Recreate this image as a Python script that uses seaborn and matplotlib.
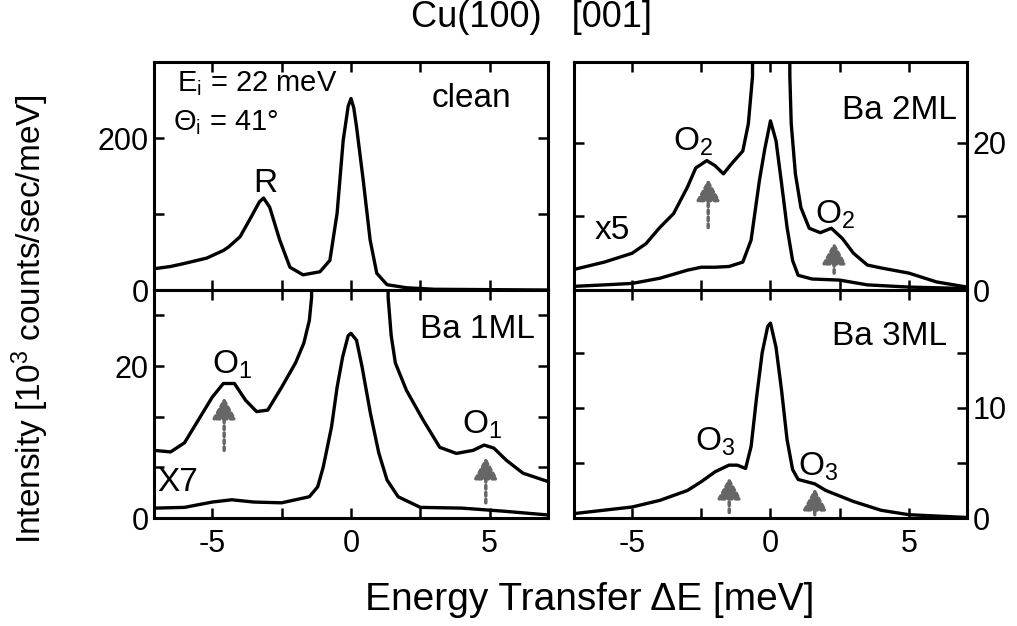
import matplotlib
matplotlib.use("Agg")
import matplotlib.pyplot as plt
import seaborn as sns

# Cu(100) [001] - He atom scattering spectra, clean and Ba covered
# values (energy transfer in meV)

clean_e = [-7.1, -6.5, -6.0, -5.2, -4.6, -4.4, -4.0, -3.66, -3.3, -3.15, -2.93, -2.57, -2.2,
           -1.73, -1.12, -0.76, -0.5, -0.28, -0.1, 0.0, 0.1, 0.2, 0.44, 0.69, 0.93, 1.3, 2.0,
           3.0, 5.0, 7.1]
clean_i = [28, 31, 35, 42, 52, 57, 70, 92, 116, 121, 109, 66, 30,
           20, 24, 39, 101, 197, 242, 252, 240, 215, 145, 66, 22, 7, 3,
           1, 0.5, 0]

ba2_e = [-7.1, -6.0, -5.0, -4.0, -3.0, -2.5, -2.0, -1.5, -1.0, -0.7, -0.4, -0.2, 0.0, 0.2,
         0.4, 0.6, 0.8, 1.0, 1.5, 2.5, 3.5, 5.0, 7.1]
ba2_i = [0.5, 0.7, 0.9, 1.6, 2.7, 3.1, 3.1, 3.2, 3.8, 6.8, 14.9, 19.3, 23.0, 20.3,
         14.5, 8.5, 4.0, 2.0, 1.5, 1.35, 0.7, 0.4, 0.2]
ba2x5_e = [-7.1, -6.0, -5.0, -4.5, -4.0, -3.5, -3.0, -2.7, -2.3, -2.0, -1.7, -1.4, -1.0,
           -0.8, -0.65, -0.6, 0.0, 0.65, 0.7, 0.75, 0.9, 1.1, 1.4, 1.8, 2.2, 2.6, 3.0, 3.5,
           4.0, 5.0, 6.0, 7.1]
ba2x5_i = [2.8, 3.8, 5.0, 6.3, 8.5, 10.4, 14.0, 16.6, 17.6, 16.9, 15.8, 17.2, 18.9,
           22.6, 29, 80, 115, 80, 29, 22.6, 15.8, 11.2, 8.4, 7.8, 8.4, 7.0, 5.0, 3.4,
           3.0, 2.3, 1.1, 0.4]

ba1_e = [-7.1, -6.0, -5.0, -4.3, -3.5, -2.5, -1.5, -1.2, -1.0, -0.7, -0.5, -0.3, -0.1, 0.0,
         0.2, 0.4, 0.7, 1.0, 1.3, 1.7, 2.5, 4.0, 5.5, 7.1]
ba1_i = [1.3, 1.4, 2.1, 2.4, 2.1, 2.0, 2.8, 4.1, 6.7, 12.0, 17.2, 21.2, 24.0, 24.3,
         23.4, 19.9, 13.8, 8.6, 5.0, 2.8, 1.4, 1.3, 0.9, 0.4]
ba1x7_e = [-7.1, -6.5, -6.0, -5.5, -5.0, -4.6, -4.2, -3.8, -3.4, -3.0, -2.5, -2.0, -1.7,
           -1.5, -1.42, -1.38, 0.0, 1.3, 1.34, 1.45, 1.6, 2.0, 2.6, 3.2, 3.8, 4.4, 4.8, 5.15,
           5.6, 6.2, 7.1]
ba1x7_i = [8.9, 8.7, 9.9, 12.9, 15.9, 17.7, 17.7, 15.5, 14.0, 14.2, 17.2, 20.4, 23.0,
           26.0, 29, 80, 170, 80, 29, 24.0, 20.4, 16.8, 12.9, 9.3, 8.5, 8.9, 9.6, 9.2,
           7.6, 5.9, 4.8]

ba3_e = [-7.1, -5.0, -4.0, -3.0, -2.5, -2.0, -1.5, -1.2, -0.9, -0.7, -0.5, -0.3, -0.1, 0.0,
         0.2, 0.4, 0.6, 0.8, 1.0, 1.3, 1.6, 2.0, 3.0, 4.0, 5.0, 7.1]
ba3_i = [0.4, 1.0, 1.6, 2.5, 3.3, 4.2, 4.8, 4.8, 4.5, 6.5, 11.0, 15.0, 17.4, 17.7,
         15.5, 11.6, 7.1, 4.4, 3.5, 3.3, 3.1, 2.5, 1.5, 0.7, 0.3, 0.05]

# arrows: (energy, tail, tip)
arrows_ba2 = [(-2.25, 8.5, 15.1), (2.3, 2.3, 6.5)]
arrows_ba1 = [(-4.57, 8.9, 15.9), (4.86, 2.0, 8.0)]
arrows_ba3 = [(-1.49, 0.5, 3.7), (1.6, 0.3, 2.7)]

sns.set_style("white")
plt.rcParams["font.family"] = ["Liberation Sans", "DejaVu Sans"]
plt.rcParams["mathtext.fontset"] = "custom"
plt.rcParams["mathtext.rm"] = "Liberation Sans"
plt.rcParams["mathtext.it"] = "Liberation Sans:italic"
plt.rcParams["mathtext.bf"] = "Liberation Sans:bold"
for key in ["text.color", "axes.labelcolor", "xtick.color", "ytick.color", "axes.edgecolor"]:
    plt.rcParams[key] = "black"

TICK = 22
LAB = 24

fig = plt.figure(figsize=(10.17, 6.26), dpi=100)
ax_tl = fig.add_axes([0.1514, 0.5367, 0.3874, 0.3642])
ax_tr = fig.add_axes([0.5644, 0.5367, 0.3864, 0.3642])
ax_bl = fig.add_axes([0.1514, 0.1725, 0.3874, 0.3642])
ax_br = fig.add_axes([0.5644, 0.1725, 0.3864, 0.3642])


def style(ax, ylim, yticks, ylabels, right=False, bottom=False):
    ax.set_xlim(-7.1, 7.1)
    ax.set_ylim(*ylim)
    ax.set_xticks([-5, -2.5, 0, 2.5, 5])
    ax.set_xticklabels(["-5", "", "0", "", "5"] if bottom else [""] * 5)
    ax.set_yticks(yticks)
    ax.set_yticklabels(ylabels)
    ax.tick_params(direction="in", length=7, width=1.8, top=True, right=True,
                   bottom=True, left=True, labelsize=TICK, pad=8, color="k")
    ax.tick_params(axis="y", pad=4)
    if right:
        ax.tick_params(axis="y", labelleft=False, labelright=True)
    for s in ax.spines.values():
        s.set_linewidth(2.2)
        s.set_color("k")
    ax.set_xlabel("")
    ax.set_ylabel("")


def curve(ax, e, i):
    sns.lineplot(x=e, y=i, ax=ax, color="k", lw=2.4, estimator=None, sort=False)


def arrows(ax, lst):
    for e, tail, tip in lst:
        ax.annotate("", xy=(e, tip), xytext=(e, tail),
                    arrowprops=dict(arrowstyle="-|>,head_length=0.65,head_width=0.36",
                                    color="0.4", lw=2.5, linestyle=(0, (1, 1)),
                                    mutation_scale=20, shrinkA=0, shrinkB=0))


# clean
curve(ax_tl, clean_e, clean_i)
style(ax_tl, (0, 300), [0, 100, 200], ["0", "", "200"])
ax_tl.text(0.058, 0.905, r"E$_\mathrm{i}$ = 22 meV", transform=ax_tl.transAxes,
           fontsize=21, va="center", ha="left")
ax_tl.text(0.048, 0.735, r"Θ$_\mathrm{i}$ = 41°", transform=ax_tl.transAxes,
           fontsize=21, va="center", ha="left")
ax_tl.text(0.807, 0.842, "clean", transform=ax_tl.transAxes, fontsize=LAB,
           va="center", ha="center")
ax_tl.text(0.282, 0.469, "R", transform=ax_tl.transAxes, fontsize=LAB,
           va="center", ha="center")

# Ba 2ML
curve(ax_tr, ba2_e, ba2_i)
curve(ax_tr, ba2x5_e, ba2x5_i)
arrows(ax_tr, arrows_ba2)
style(ax_tr, (0, 31), [0, 10, 20], ["0", "", "20"], right=True)
ax_tr.text(0.975, 0.789, "Ba 2ML", transform=ax_tr.transAxes, fontsize=LAB,
           va="center", ha="right")
ax_tr.text(0.053, 0.263, "x5", transform=ax_tr.transAxes, fontsize=LAB,
           va="center", ha="left")
ax_tr.text(0.252, 0.65, r"O$_\mathrm{2}$", transform=ax_tr.transAxes, fontsize=LAB,
           va="center", ha="left")
ax_tr.text(0.613, 0.33, r"O$_\mathrm{2}$", transform=ax_tr.transAxes, fontsize=LAB,
           va="center", ha="left")

# Ba 1ML
curve(ax_bl, ba1_e, ba1_i)
curve(ax_bl, ba1x7_e, ba1x7_i)
arrows(ax_bl, arrows_ba1)
style(ax_bl, (0, 30), [0, 20 / 3, 40 / 3, 20, 80 / 3], ["0", "", "", "20", ""], bottom=True)
ax_bl.text(0.967, 0.825, "Ba 1ML", transform=ax_bl.transAxes, fontsize=LAB,
           va="center", ha="right")
ax_bl.text(0.008, 0.154, "X7", transform=ax_bl.transAxes, fontsize=LAB,
           va="center", ha="left")
ax_bl.text(0.147, 0.673, r"O$_\mathrm{1}$", transform=ax_bl.transAxes, fontsize=LAB,
           va="center", ha="left")
ax_bl.text(0.782, 0.41, r"O$_\mathrm{1}$", transform=ax_bl.transAxes, fontsize=LAB,
           va="center", ha="left")

# Ba 3ML
curve(ax_br, ba3_e, ba3_i)
arrows(ax_br, arrows_ba3)
style(ax_br, (0, 20.7), [0, 5, 10, 15], ["0", "", "10", ""], right=True, bottom=True)
ax_br.text(0.949, 0.794, "Ba 3ML", transform=ax_br.transAxes, fontsize=LAB,
           va="center", ha="right")
ax_br.text(0.308, 0.335, r"O$_\mathrm{3}$", transform=ax_br.transAxes, fontsize=LAB,
           va="center", ha="left")
ax_br.text(0.57, 0.226, r"O$_\mathrm{3}$", transform=ax_br.transAxes, fontsize=LAB,
           va="center", ha="left")

fig.text(0.523, 0.972, "Cu(100)   [001]", fontsize=26, ha="center", va="center")
fig.text(0.58, 0.042, "Energy Transfer ΔE [meV]", fontsize=28, ha="center", va="center")
fig.text(0.03, 0.49, r"Intensity [10$^3$ counts/sec/meV]", fontsize=24, rotation=90,
         ha="center", va="center")

fig.savefig("out.png", dpi=100)
